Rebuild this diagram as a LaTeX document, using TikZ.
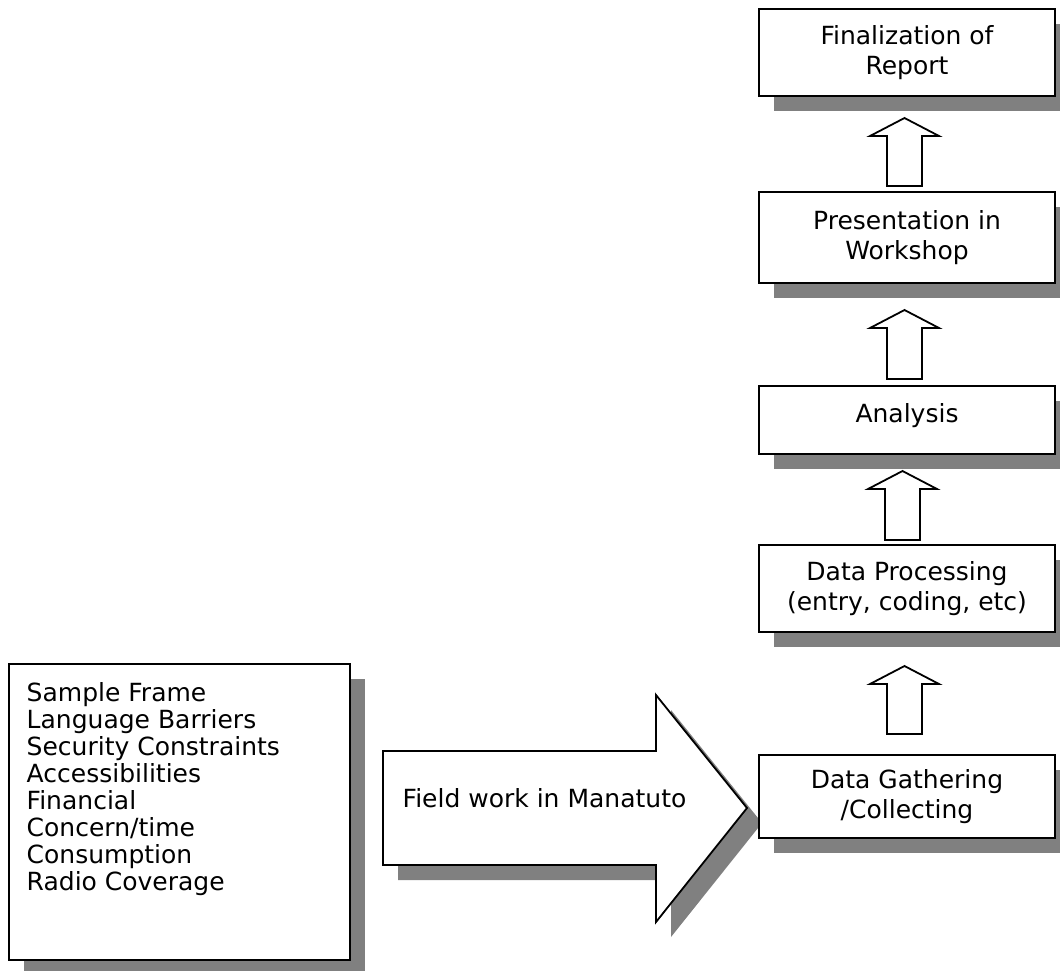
\documentclass[tikz,border=0pt]{standalone}
\usepackage{fontspec}
\setmainfont{DejaVu Sans}
\usetikzlibrary{shadows}

\definecolor{shadowgray}{HTML}{808080}

\tikzset{
  boxshadow/.style={drop shadow={shadow xshift=15pt, shadow yshift=-15pt, fill=shadowgray, opacity=1}},
  stage/.style={draw=black, line width=2pt, fill=white, minimum width=296pt,
    inner sep=0pt, align=center, font=\fontsize{25}{30}\selectfont, boxshadow},
  notebox/.style={draw=black, line width=2pt, fill=white, inner sep=0pt, boxshadow},
  notetext/.style={inner sep=0pt, align=left, font=\fontsize{25}{27}\selectfont},
  flowarrow/.style={draw=black, line width=1.8pt, fill=white, line join=miter},
  flowshadow/.style={fill=shadowgray, draw=none},
}

% hollow block arrow pointing up: #1 = centre x, #2 = tip y, #3 = tail y
\newcommand{\upblock}[3]{%
  \draw[flowarrow] (#1-17.5,#3) -- (#1-17.5,#2+18) -- (#1-34.5,#2+18) -- (#1,#2)
    -- (#1+34.5,#2+18) -- (#1+17.5,#2+18) -- (#1+17.5,#3) -- cycle;}

\begin{document}
\begin{tikzpicture}[x=1pt, y=-1pt]
\useasboundingbox (0,0) rectangle (1060,971);
\begin{scope}
\clip (0,0) rectangle (1060,971);

% constraints list on the left
\node[notebox, minimum width=341pt, minimum height=296pt] (issues) at (179.5,812) {};
\node[notetext, anchor=north west] (issuestext) at (26.5,682) {Sample Frame\\Language Barriers\\Security Constraints\\Accessibilities\\Financial\\Concern/time\\Consumption\\Radio Coverage};

% large arrow leading into the field work stage
\fill[flowshadow] (398,766) -- (671,766) -- (671,710) -- (762,823) -- (671,937)
  -- (671,880) -- (398,880) -- cycle;
\draw[flowarrow] (383,751) -- (656,751) -- (656,695) -- (747,808) -- (656,922)
  -- (656,865) -- (383,865) -- cycle;
\node[inner sep=0pt, anchor=base west, font=\fontsize{25}{30}\selectfont] (fieldwork) at (402.5,807) {Field work in Manatuto};

% process stages, bottom to top
\node[stage, minimum height=83pt] (gather) at (907,796.5) {Data Gathering\\/Collecting};
\node[stage, minimum height=87pt] (process) at (907,588.5) {Data Processing\\(entry, coding, etc)};
\node[stage, minimum height=68pt, text depth=15pt] (analysis) at (907,420) {Analysis};
\node[stage, minimum height=91pt] (present) at (907,237.5) {Presentation in\\Workshop};
\node[stage, minimum height=87pt] (final) at (907,52.5) {Finalization of\\Report};

% hollow arrows between the stages
\upblock{904.5}{666}{734}
\upblock{902.5}{471}{540}
\upblock{904.5}{310}{379}
\upblock{904.5}{118}{186}

\end{scope}
\end{tikzpicture}
\end{document}
